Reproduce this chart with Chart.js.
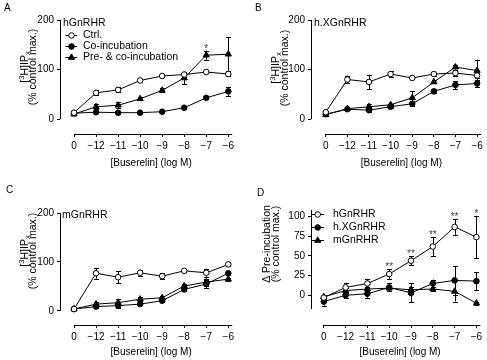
<!DOCTYPE html>
<html>
<head>
<meta charset="utf-8">
<script src="https://cdn.jsdelivr.net/npm/chart.js@4.4.1/dist/chart.umd.min.js"></script>
<style>
html, body { margin: 0; padding: 0; background: #fff; }
#wrap { position: relative; width: 487px; height: 360px; }
#wrap canvas { position: absolute; }
</style>
</head>
<body>
<div id="wrap">
  <canvas id="chartA" width="243" height="180" style="left:0;top:0"></canvas>
  <canvas id="chartB" width="244" height="180" style="left:243px;top:0"></canvas>
  <canvas id="chartC" width="243" height="180" style="left:0;top:180px"></canvas>
  <canvas id="chartD" width="244" height="180" style="left:243px;top:180px"></canvas>
</div>
<script>
// dose axis (log M), 0 = no buserelin
const doseLabels = ['0', '−12', '−11', '−10', '−9', '−8', '−7', '−6'];
const ipxTicks = [0, 100, 200];
const deltaTicks = [0, 25, 50, 75, 100];

// A - hGnRHR
const aCtrl = [13, 53, 59, 78, 87, 90, 95, 91];
const aCtrlErr = [2, 5, 5, 3, 2, 4, 2, 4];
const aCo = [12, 14, 13, 13, 15, 23, 43, 56];
const aCoErr = [2, 2, 2, 2, 2, 2, 3, 9];
const aPre = [10, 25, 28, 41, 58, 83, 129, 131];
const aPreErr = [2, 5, 6, 3, 4, 13, 9, 34];
const aStars = ['', '', '', '', '', '', '*', ''];

// B - h.XGnRHR
const bCtrl = [14, 80, 75, 91, 83, 91, 93, 88];
const bCtrlErr = [2, 8, 15, 6, 2, 3, 5, 6];
const bCo = [10, 20, 18, 25, 31, 56, 69, 72];
const bCoErr = [2, 2, 3, 3, 4, 4, 8, 7];
const bPre = [9, 21, 25, 29, 43, 75, 105, 98];
const bPreErr = [2, 2, 6, 2, 13, 3, 5, 22];

// C - mGnRHR
const cCtrl = [4, 77, 69, 78, 71, 82, 78, 95];
const cCtrlErr = [2, 11, 12, 6, 6, 2, 8, 3];
const cCo = [4, 9, 11, 14, 21, 44, 55, 77];
const cCoErr = [2, 3, 4, 2, 3, 4, 9, 3];
const cPre = [4, 14, 17, 24, 27, 51, 59, 65];
const cPreErr = [2, 4, 8, 4, 3, 4, 7, 3];

// D - delta pre-incubation
const dH = [-3, 10, 15, 27, 44, 62, 87, 74];
const dHErr = [4, 6, 6, 6, 6, 12, 10, 27];
const dX = [-8, 0, 2, 10, 3, 15, 19, 18];
const dXErr = [5, 4, 5, 5, 12, 5, 18, 11];
const dM = [-2, 6, 8, 9, 7, 8, 5, -10];
const dMErr = [3, 3, 3, 3, 4, 3, 13, 2];
const dStars = ['', '', '', '**', '**', '**', '**', '*'];

const FONT = '"Liberation Sans", Arial, Helvetica, sans-serif';
Chart.defaults.font.family = FONT;
Chart.defaults.font.size = 10;
Chart.defaults.color = '#000';

function series(label, values, errors, style, fill) {
    return {
        label: label,
        data: values.map((v, i) => ({ x: i, y: v })),
        errors: errors,
        borderColor: '#000',
        borderWidth: 1,
        pointStyle: style,
        pointRadius: style === 'triangle' ? 3.6 : 2.8,
        pointBackgroundColor: fill,
        pointBorderColor: '#000',
        pointBorderWidth: 1,
        tension: 0,
        clip: false,
    };
}

function marker(ctx, style, fill, x, y) {
    ctx.save();
    ctx.fillStyle = fill;
    ctx.strokeStyle = '#000';
    ctx.lineWidth = 1;
    ctx.beginPath();
    if (style === 'triangle') {
        const r = 3.6;
        ctx.moveTo(x, y - r);
        ctx.lineTo(x + r * 0.866, y + r / 2);
        ctx.lineTo(x - r * 0.866, y + r / 2);
        ctx.closePath();
    } else {
        ctx.arc(x, y, 2.8, 0, Math.PI * 2);
    }
    ctx.fill();
    ctx.stroke();
    ctx.restore();
}

function drawRich(ctx, parts, cx, cy) {
    let total = 0;
    parts.forEach(pt => {
        ctx.font = pt.size + 'px ' + FONT;
        pt.w = ctx.measureText(pt.t).width;
        total += pt.w;
    });
    let x = cx - total / 2;
    parts.forEach(pt => {
        ctx.font = pt.size + 'px ' + FONT;
        ctx.fillText(pt.t, x, cy + pt.dy);
        x += pt.w;
    });
}

const ipxTitle = [
    [{ t: '[', size: 10.5, dy: 0 }, { t: '3', size: 7.5, dy: -3.5 }, { t: 'H]IP', size: 10.5, dy: 0 }, { t: 'x', size: 7.5, dy: 3 }],
    [{ t: '(% control max.)', size: 10.5, dy: 0 }]
];
const deltaTitle = [
    [{ t: 'Δ Pre-incubation', size: 10.5, dy: 0 }],
    [{ t: '(% control max.)', size: 10.5, dy: 0 }]
];

// extra drawing for each panel: error bars, axis lines, titles, legend, stars
function decor(p) {
    return {
        id: 'decor',
        beforeDatasetsDraw(chart) {
            const ctx = chart.ctx;
            const xs = chart.scales.x, ys = chart.scales.y;
            ctx.save();
            ctx.strokeStyle = '#000';
            ctx.lineWidth = 1;
            chart.data.datasets.forEach(ds => {
                ds.data.forEach((pt, i) => {
                    const e = ds.errors[i];
                    if (!e) return;
                    const px = Math.round(xs.getPixelForValue(pt.x)) + 0.5;
                    const top = ys.getPixelForValue(pt.y + e);
                    const bot = ys.getPixelForValue(pt.y - e);
                    ctx.beginPath();
                    ctx.moveTo(px, top); ctx.lineTo(px, bot);
                    ctx.moveTo(px - 2.5, Math.round(top) + 0.5); ctx.lineTo(px + 2.5, Math.round(top) + 0.5);
                    ctx.moveTo(px - 2.5, Math.round(bot) + 0.5); ctx.lineTo(px + 2.5, Math.round(bot) + 0.5);
                    ctx.stroke();
                });
            });
            ctx.restore();
        },
        afterDatasetsDraw(chart) {
            const ctx = chart.ctx;
            const xs = chart.scales.x, ys = chart.scales.y;
            const area = chart.chartArea;
            ctx.save();
            ctx.strokeStyle = '#000';
            ctx.fillStyle = '#000';
            ctx.lineWidth = 1;

            // detached axis lines
            const ax = Math.round(area.left) + 0.5;
            const ay = Math.round(area.bottom) + 0.5;
            ctx.beginPath();
            ctx.moveTo(ax, ys.getPixelForValue(p.yLine[0]));
            ctx.lineTo(ax, ys.getPixelForValue(p.yLine[1]));
            ctx.moveTo(xs.getPixelForValue(0), ay);
            ctx.lineTo(xs.getPixelForValue(7.18), ay);
            ctx.stroke();

            // significance marks
            if (p.stars) {
                ctx.font = '10px ' + FONT;
                ctx.fillStyle = '#444';
                ctx.textAlign = 'center';
                ctx.textBaseline = 'alphabetic';
                const ds = chart.data.datasets[p.starSeries];
                p.stars.forEach((s, i) => {
                    if (!s) return;
                    const pt = ds.data[i];
                    const y = ys.getPixelForValue(pt.y + ds.errors[i]);
                    ctx.fillText(s, xs.getPixelForValue(i), y + 1);
                });
                ctx.fillStyle = '#000';
            }

            // panel letter
            ctx.font = '10px ' + FONT;
            ctx.textAlign = 'left';
            ctx.textBaseline = 'middle';
            ctx.fillText(p.letter, p.letterPos[0], p.letterPos[1]);

            // x title
            ctx.font = '10px ' + FONT;
            ctx.textAlign = 'center';
            ctx.fillText('[Buserelin] (log M)', (xs.getPixelForValue(0) + xs.getPixelForValue(7)) / 2, p.xTitleY);

            // y title (rotated, two lines)
            ctx.textAlign = 'left';
            p.yTitle.forEach((parts, k) => {
                ctx.save();
                ctx.translate(p.yTitleX[k], p.yTitleY);
                ctx.rotate(-Math.PI / 2);
                drawRich(ctx, parts, 0, 0);
                ctx.restore();
            });

            // receptor name / legend
            ctx.font = '10.5px ' + FONT;
            ctx.textAlign = 'left';
            ctx.textBaseline = 'middle';
            if (p.header) ctx.fillText(p.header, p.headerPos[0], p.headerPos[1]);
            if (p.legend) {
                const L = p.legend;
                chart.data.datasets.forEach((ds, k) => {
                    const y = L.y[k];
                    ctx.beginPath();
                    ctx.moveTo(L.x0, Math.round(y) + 0.5);
                    ctx.lineTo(L.x1, Math.round(y) + 0.5);
                    ctx.stroke();
                    marker(ctx, ds.pointStyle, ds.pointBackgroundColor, L.xm, Math.round(y) + 0.5);
                    ctx.fillStyle = '#000';
                    ctx.font = '10.5px ' + FONT;
                    ctx.fillText(ds.label, L.xt, y + 0.5);
                });
            }
            ctx.restore();
        }
    };
}

function makePanel(id, p) {
    const canvas = document.getElementById(id);
    const W = canvas.width, H = canvas.height;
    const xMin = -(p.x0 - p.left) / p.step;
    const xMax = (p.right - p.x0) / p.step;
    return new Chart(canvas.getContext('2d'), {
        type: 'line',
        data: { datasets: p.datasets },
        options: {
            responsive: false,
            animation: false,
            layout: { padding: { left: 0, top: p.top, right: W - p.right, bottom: 0 } },
            plugins: { legend: { display: false }, tooltip: { enabled: false } },
            scales: {
                x: {
                    type: 'linear', bounds: 'data', min: xMin, max: xMax,
                    border: { display: false },
                    grid: { drawOnChartArea: false, drawTicks: true, tickLength: 3, color: '#000', lineWidth: 1 },
                    ticks: { padding: 3, autoSkip: false, maxRotation: 0, font: { size: 10 }, callback: v => doseLabels[v] ?? '' },
                    afterBuildTicks: s => { s.ticks = doseLabels.map((_, i) => ({ value: i })); },
                    afterFit: s => { s.height = H - p.bottom; s.paddingLeft = 0; s.paddingRight = 0; },
                },
                y: {
                    type: 'linear', bounds: 'data', min: p.yMin, max: p.yMax,
                    border: { display: false },
                    grid: { drawOnChartArea: false, drawTicks: true, tickLength: 3, color: '#000', lineWidth: 1 },
                    ticks: { padding: 3, font: { size: 10 } },
                    afterBuildTicks: s => { s.ticks = p.yTicks.map(v => ({ value: v })); },
                    afterFit: s => { s.width = p.left; s.paddingTop = 0; s.paddingBottom = 0; },
                }
            }
        },
        plugins: [decor(p)]
    });
}

makePanel('chartA', {
    datasets: [
        series('Ctrl.', aCtrl, aCtrlErr, 'circle', '#fff'),
        series('Co-incubation', aCo, aCoErr, 'circle', '#000'),
        series('Pre- & co-incubation', aPre, aPreErr, 'triangle', '#000'),
    ],
    left: 60, right: 236, top: 20, bottom: 134, x0: 74, step: 22.04,
    yMin: -30, yMax: 200, yTicks: ipxTicks, yLine: [0, 200],
    stars: aStars, starSeries: 2,
    letter: 'A', letterPos: [4, 8],
    xTitleY: 163, yTitle: ipxTitle, yTitleX: [25, 33.5], yTitleY: 67,
    header: 'hGnRHR', headerPos: [63, 23.5],
    legend: { x0: 65.5, x1: 77, xm: 71.5, xt: 83, y: [34.5, 45.5, 56.5] },
});

makePanel('chartB', {
    datasets: [
        series('Ctrl.', bCtrl, bCtrlErr, 'circle', '#fff'),
        series('Co-incubation', bCo, bCoErr, 'circle', '#000'),
        series('Pre- & co-incubation', bPre, bPreErr, 'triangle', '#000'),
    ],
    left: 68, right: 242, top: 20, bottom: 134, x0: 83, step: 22,
    yMin: -30, yMax: 200, yTicks: ipxTicks, yLine: [0, 200],
    letter: 'B', letterPos: [12, 8],
    xTitleY: 163, yTitle: ipxTitle, yTitleX: [33, 42], yTitleY: 68,
    header: 'h.XGnRHR', headerPos: [71, 23.5],
});

makePanel('chartC', {
    datasets: [
        series('Ctrl.', cCtrl, cCtrlErr, 'circle', '#fff'),
        series('Co-incubation', cCo, cCoErr, 'circle', '#000'),
        series('Pre- & co-incubation', cPre, cPreErr, 'triangle', '#000'),
    ],
    left: 60, right: 236, top: 33, bottom: 145, x0: 74, step: 22.04,
    yMin: -28.6, yMax: 200, yTicks: ipxTicks, yLine: [0, 200],
    letter: 'C', letterPos: [6, 10],
    xTitleY: 172, yTitle: ipxTitle, yTitleX: [25, 33.5], yTitleY: 71,
    header: 'mGnRHR', headerPos: [62, 35.5],
});

makePanel('chartD', {
    datasets: [
        series('hGnRHR', dH, dHErr, 'circle', '#fff'),
        series('h.XGnRHR', dX, dXErr, 'circle', '#000'),
        series('mGnRHR', dM, dMErr, 'triangle', '#000'),
    ],
    left: 68, right: 242, top: 30, bottom: 145, x0: 81, step: 22.19,
    yMin: -37.8, yMax: 108.5, yTicks: deltaTicks, yLine: [-17.5, 108.5],
    stars: dStars, starSeries: 0,
    letter: 'D', letterPos: [14, 13],
    xTitleY: 172, yTitle: deltaTitle, yTitleX: [24, 33], yTitleY: 64,
    legend: { x0: 68, x1: 81, xm: 74.7, xt: 90, y: [33.5, 47, 60] },
});
</script>
</body>
</html>
